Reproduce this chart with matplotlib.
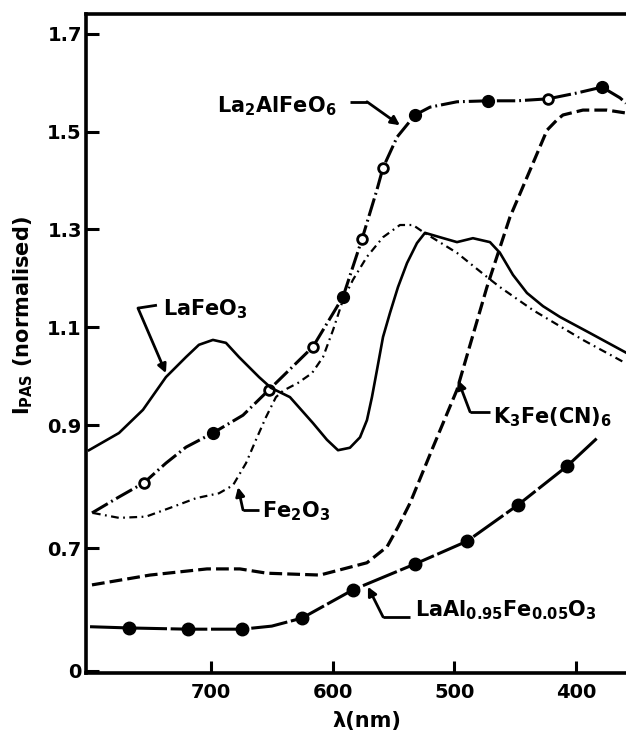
import numpy as np
import matplotlib.pyplot as plt
from matplotlib.ticker import FixedLocator, FixedFormatter

plt.rcParams['font.family'] = 'DejaVu Sans'
plt.rcParams['font.weight'] = 'bold'
plt.rcParams['mathtext.fontset'] = 'custom'
plt.rcParams['mathtext.rm'] = 'DejaVu Sans:bold'
plt.rcParams['mathtext.it'] = 'DejaVu Sans:bold'
plt.rcParams['mathtext.bf'] = 'DejaVu Sans:bold'
plt.rcParams['mathtext.default'] = 'rm'

# --- spectra (wavelength in nm, normalised PAS signal) ---
la2_nm = [797.8, 775.6, 755.1, 737.0, 720.5, 698.4, 673.7, 652.3, 616.2, 591.5,
          575.9, 563.6, 558.6, 547.0, 532.3, 520.0, 497.8, 472.3, 448.5, 423.0,
          399.2, 378.6, 363.8, 358.9]
la2_val = [0.757, 0.783, 0.806, 0.838, 0.864, 0.887, 0.920, 0.972, 1.060, 1.162,
           1.280, 1.381, 1.426, 1.489, 1.534, 1.550, 1.561, 1.563, 1.563, 1.567,
           1.579, 1.591, 1.569, 1.558]
la2_open_nm = [755.1, 652.3, 616.2, 575.9, 558.6, 423.0]
la2_open_val = [0.806, 0.972, 1.060, 1.280, 1.426, 1.567]
la2_fill_nm = [698.4, 591.5, 532.3, 472.3, 378.6]
la2_fill_val = [0.887, 1.162, 1.534, 1.563, 1.591]

lafeo3_nm = [800.3, 775.6, 755.9, 737.0, 720.5, 709.9, 698.4, 687.7, 677.0, 660.5,
             650.7, 635.1, 616.2, 604.7, 595.6, 585.8, 577.5, 571.8, 567.7, 563.6,
             558.6, 552.9, 546.3, 538.9, 530.7, 524.1, 511.8, 497.8, 484.7, 470.7,
             462.5, 451.8, 440.3, 427.1, 413.2, 388.5, 358.9]
lafeo3_val = [0.859, 0.887, 0.931, 0.998, 1.039, 1.064, 1.074, 1.068, 1.039, 0.998,
              0.976, 0.957, 0.904, 0.876, 0.859, 0.863, 0.880, 0.910, 0.957, 1.012,
              1.080, 1.129, 1.182, 1.231, 1.272, 1.293, 1.284, 1.274, 1.282, 1.274,
              1.252, 1.207, 1.170, 1.143, 1.121, 1.088, 1.048]

fe2o3_nm = [797.0, 775.6, 753.4, 731.2, 712.3, 693.4, 681.9, 671.2, 663.0, 654.8,
            646.6, 640.8, 628.5, 617.0, 607.9, 599.7, 591.5, 583.3, 571.8, 558.6,
            544.7, 534.0, 525.8, 497.8, 472.3, 462.5, 435.4, 394.3, 358.9]
fe2o3_val = [0.757, 0.749, 0.751, 0.767, 0.781, 0.789, 0.802, 0.838, 0.876, 0.916,
             0.957, 0.970, 0.986, 1.006, 1.039, 1.094, 1.156, 1.197, 1.244, 1.284,
             1.309, 1.309, 1.295, 1.252, 1.201, 1.182, 1.135, 1.074, 1.026]

k3_nm = [797.8, 750.1, 703.3, 676.2, 654.0, 610.4, 571.8, 555.3, 546.3, 536.4,
         517.5, 497.8, 473.2, 454.3, 437.8, 423.8, 415.6, 410.7, 394.3, 374.5,
         358.9]
k3_val = [0.640, 0.656, 0.666, 0.666, 0.659, 0.656, 0.676, 0.702, 0.734, 0.773,
          0.864, 0.972, 1.182, 1.325, 1.421, 1.503, 1.524, 1.534, 1.544, 1.544,
          1.538]

laal_nm = [799.4, 767.4, 718.9, 674.5, 650.0, 625.2, 583.3, 532.3, 489.6, 447.7,
           407.4, 381.9]
laal_val = [0.572, 0.570, 0.568, 0.568, 0.573, 0.586, 0.632, 0.674, 0.711, 0.770,
            0.833, 0.880]
laal_marks = [1, 2, 3, 5, 6, 7, 8, 9, 10]

ytick_vals = [0.5, 0.7, 0.9, 1.1, 1.3, 1.5, 1.7]
ytick_text = ['0', '0.7', '0.9', '1.1', '1.3', '1.5', '1.7']
xtick_vals = [700, 600, 500, 400]


# the y axis is drawn with a coarser scale above 0.9 than below it
def fwd(v):
    v = np.asarray(v, dtype=float)
    return np.where(v >= 0.9, (v - 0.9) * 489.0, (v - 0.9) * 615.0)


def inv(u):
    u = np.asarray(u, dtype=float)
    return np.where(u >= 0, 0.9 + u / 489.0, 0.9 + u / 615.0)


fig = plt.figure(figsize=(6.26, 7.37), dpi=100)
ax = fig.add_axes([0.1374, 0.0868, 0.8626, 0.8942])
ax.set_yscale('function', functions=(fwd, inv))
ax.set_xlim(802.7, 358.9)
ax.set_ylim(0.4967, 1.7405)

k = 'black'
ax.plot(la2_nm, la2_val, color=k, lw=2.2, dashes=(6, 1.3, 0.6, 1.3))
ax.plot(la2_open_nm, la2_open_val, 'o', ms=7, mfc='white', mec=k, mew=2)
ax.plot(la2_fill_nm, la2_fill_val, 'o', ms=8.5, color=k)

ax.plot(lafeo3_nm, lafeo3_val, color=k, lw=1.9)
ax.plot(fe2o3_nm, fe2o3_val, color=k, lw=1.6, dashes=(3.5, 2, 0.8, 2))
ax.plot(k3_nm, k3_val, color=k, lw=2.3, dashes=(4, 1.6))
ax.plot(laal_nm, laal_val, color=k, lw=2.2, dashes=(12, 1.2),
        marker='o', ms=9, markevery=laal_marks)


def label(text, x, y, path):
    ax.text(x, y, text, fontsize=15, fontweight='bold', ha='left', va='baseline')
    px = [p[0] for p in path[:-1]]
    py = [p[1] for p in path[:-1]]
    ax.plot(px, py, color=k, lw=2, solid_capstyle='butt')
    ax.annotate('', xy=path[-1], xytext=path[-2],
                arrowprops=dict(arrowstyle='-|>', color=k, lw=2,
                                mutation_scale=13, shrinkA=0, shrinkB=0))


label(r'La$_2$AlFeO$_6$', 695.1, 1.540,
      [(585.8, 1.561), (571.8, 1.561), (544.7, 1.513)])
label(r'LaFeO$_3$', 739.5, 1.125,
      [(744.4, 1.145), (760.0, 1.139), (737.0, 1.006)])
label(r'Fe$_2$O$_3$', 658.1, 0.749,
      [(660.5, 0.762), (673.7, 0.762), (677.8, 0.799)])
label(r'K$_3$Fe(CN)$_6$', 468.2, 0.904,
      [(470.7, 0.927), (487.1, 0.927), (497.0, 0.992)])
label(r'LaAl$_{0.95}$Fe$_{0.05}$O$_3$', 532.3, 0.588,
      [(536.4, 0.588), (558.6, 0.588), (571.0, 0.637)])

ax.yaxis.set_major_locator(FixedLocator(ytick_vals))
ax.yaxis.set_major_formatter(FixedFormatter(ytick_text))
ax.yaxis.set_minor_locator(FixedLocator([]))
ax.set_xticks(xtick_vals)
ax.tick_params(axis='both', direction='in', length=9, width=2.2,
               labelsize=14)
ax.tick_params(axis='y', pad=3)
ax.tick_params(axis='x', pad=7)
for lab in ax.get_xticklabels() + ax.get_yticklabels():
    lab.set_fontweight('bold')

for side in ('left', 'bottom', 'top'):
    ax.spines[side].set_linewidth(2.6)
ax.spines['right'].set_visible(False)

ax.set_xlabel('λ(nm)', fontsize=15, fontweight='bold')
ax.xaxis.set_label_coords(0.52, -0.058)
ax.set_ylabel(r'I$_{\mathrm{PAS}}$ (normalised)', fontsize=15, fontweight='bold')
ax.yaxis.set_label_coords(-0.095, 0.543)

fig.savefig('out.png', dpi=100)
